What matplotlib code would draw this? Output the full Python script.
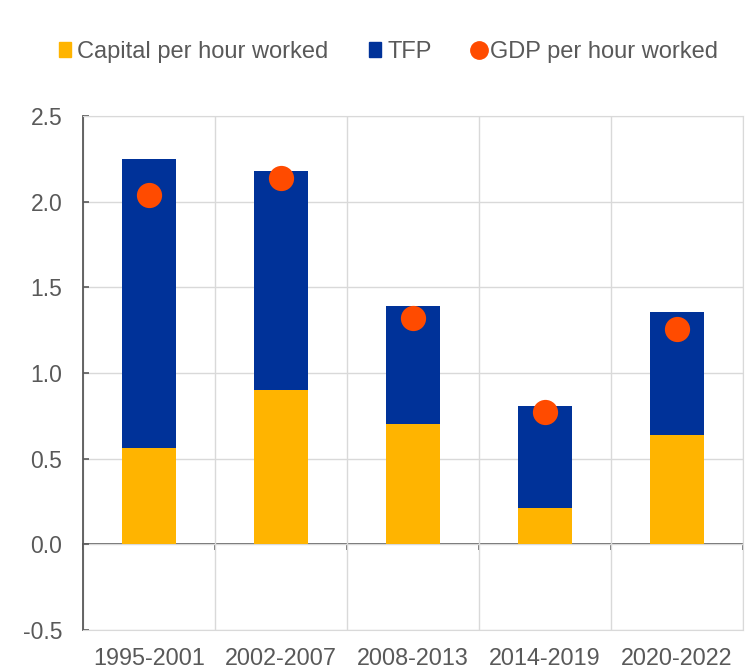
import matplotlib
matplotlib.use("Agg")
import matplotlib.pyplot as plt
from matplotlib.lines import Line2D
from matplotlib.patches import Patch
import numpy as np

# Data
periods = ["1995-2001", "2002-2007", "2008-2013", "2014-2019", "2020-2022"]
capital = [0.56, 0.90, 0.70, 0.21, 0.64]
tfp = [1.69, 1.28, 0.69, 0.595, 0.715]
gdp = [2.04, 2.14, 1.32, 0.77, 1.26]

YELLOW = "#FFB400"
BLUE = "#003299"
ORANGE = "#FF4B00"
GREY_TXT = "#595959"
GRID = "#D9D9D9"

plt.rcParams["font.family"] = ["Liberation Sans", "DejaVu Sans"]
plt.rcParams["axes.unicode_minus"] = False

fig = plt.figure(figsize=(7.49, 6.71), dpi=100)
ax = fig.add_axes([0.111, 0.061, 0.881, 0.766])

x = np.arange(len(periods))
ax.bar(x, capital, width=0.41, color=YELLOW, zorder=3)
ax.bar(x, tfp, width=0.41, bottom=capital, color=BLUE, zorder=3)
ax.scatter(x, gdp, s=330, color=ORANGE, zorder=4, linewidths=0)

ax.set_xlim(-0.5, len(periods) - 0.5)
ax.set_ylim(-0.5, 2.5)
yt = np.arange(-0.5, 2.51, 0.5)
ax.set_yticks(yt)
ax.set_yticklabels([f"{v:.1f}" for v in yt])
ax.set_xticks(x)
ax.set_xticklabels(periods)
ax.set_xticks(np.arange(-0.5, len(periods), 1.0), minor=True)

# grid
ax.grid(axis="y", which="major", color=GRID, linewidth=1, zorder=0)
ax.grid(axis="x", which="minor", color=GRID, linewidth=1, zorder=0)
ax.grid(axis="x", which="major", visible=False)

for side in ["top", "right", "bottom"]:
    ax.spines[side].set_color(GRID)
ax.spines["left"].set_color(GREY_TXT)
ax.spines["left"].set_linewidth(1.3)

ax.tick_params(axis="y", direction="in", length=4, width=1.2, color=GREY_TXT,
               labelsize=16.5, labelcolor=GREY_TXT, pad=15)
ax.tick_params(axis="x", which="both", length=0, labelsize=16.8,
               labelcolor=GREY_TXT, pad=12)

# zero line with small ticks at category boundaries
zero_ax = ax.secondary_xaxis(1 / 6)
zero_ax.set_xticks(np.arange(-0.5, len(periods), 1.0))
zero_ax.tick_params(length=4, width=1.2, color=GREY_TXT, labelbottom=False)
zero_ax.spines["bottom"].set_color(GREY_TXT)
zero_ax.spines["bottom"].set_linewidth(1.3)

handles = [
    Patch(color=YELLOW, label="Capital per hour worked"),
    Patch(color=BLUE, label="TFP"),
    Line2D([], [], marker="o", linestyle="none", color=ORANGE, markersize=12.5,
           label="GDP per hour worked"),
]
fig.legend(handles=handles, loc="center", bbox_to_anchor=(0.519, 0.9225), ncol=3,
           frameon=False, fontsize=17, handlelength=0.5, handleheight=0.6,
           handletextpad=0.25, columnspacing=1.75, labelcolor=GREY_TXT)

fig.savefig("out.png", dpi=100, facecolor="white")
